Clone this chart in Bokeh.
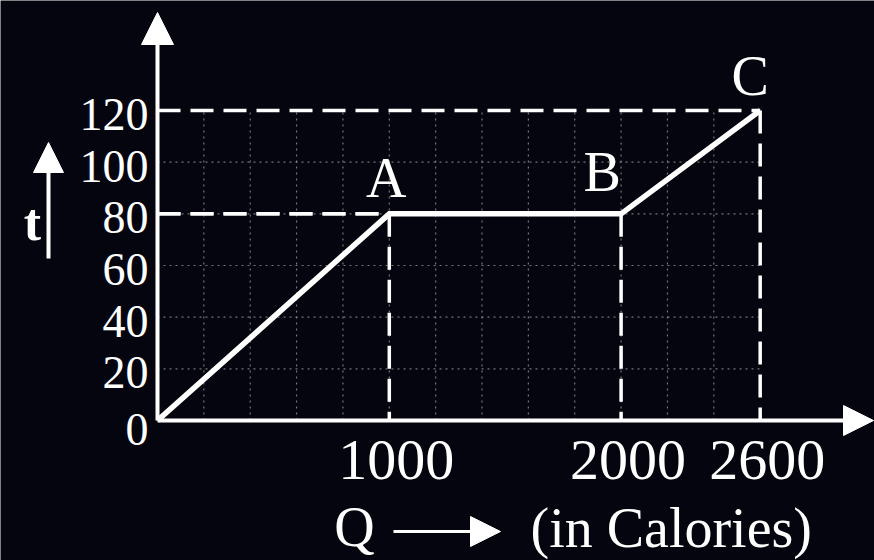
from bokeh.plotting import figure
from bokeh.models import Range1d, Arrow, NormalHead, Label
from bokeh.core.properties import value
from bokeh.embed import file_html
from bokeh.resources import INLINE

# Heating curve: heat supplied Q (calories) against temperature t
heat_q = [0, 1000, 2000, 2600]
temp_t = [0, 80, 80, 120]

# Named points on the curve
point_names = ["A", "B", "C"]
point_q = [1000, 2000, 2600]
point_t = [80, 80, 120]

# Tick labels
x_tick_values = [1000, 2000, 2600]
x_tick_labels = ["1000", "2000", "2600"]
y_tick_values = [0, 20, 40, 60, 80, 100, 120]
y_tick_labels = ["0", "20", "40", "60", "80", "100", "120"]

# Grid spacing
grid_q_step = 200
grid_t_step = 20

# ---- layout ----
W, H = 874, 560
BG = "#05050f"
FG = "white"
FONT = value("Liberation Serif")

# pixel position of the origin and pixels per unit
X0, Y0 = 157, 420
SX, SY = 0.2318, 2.583


def qx(px):
    """data Q for a canvas x pixel"""
    return (px - X0) / SX


def ty(py):
    """data t for a canvas y pixel (measured from top)"""
    return (Y0 - py) / SY


p = figure(
    width=W, height=H,
    x_range=Range1d(qx(0), qx(W)), y_range=Range1d(ty(H), ty(0)),
    x_axis_location=None, y_axis_location=None,
    min_border=0, toolbar_location=None, output_backend="svg",
    background_fill_color=BG, border_fill_color=BG, outline_line_color=None,
)
p.grid.visible = False

q_max = max(point_q)
t_max = max(point_t)

# dotted grid
grid_qs = list(range(grid_q_step, q_max, grid_q_step))
grid_ts = list(range(grid_t_step, t_max, grid_t_step))
p.segment(x0=grid_qs, y0=[0] * len(grid_qs), x1=grid_qs, y1=[t_max] * len(grid_qs),
          line_color="#9a9a9a", line_width=1.2, line_dash="2 4", line_alpha=0.75)
p.segment(x0=[0] * len(grid_ts), y0=grid_ts, x1=[q_max] * len(grid_ts), y1=grid_ts,
          line_color="#9a9a9a", line_width=1.2, line_dash="2 4", line_alpha=0.75)

# dashed guides from each named point to the axes
n = len(point_q)
p.segment(x0=[0] * n, y0=point_t, x1=point_q, y1=point_t,
          line_color=FG, line_width=3.5, line_dash="23 10")
p.segment(x0=point_q, y0=point_t, x1=point_q, y1=[0] * n,
          line_color=FG, line_width=3.5, line_dash="23 10")

# axes with arrow heads
p.add_layout(Arrow(x_start=0, y_start=0, x_end=0, y_end=ty(12),
                   line_color=FG, line_width=4,
                   end=NormalHead(size=32, fill_color=FG, line_color=FG)))
p.add_layout(Arrow(x_start=0, y_start=0, x_end=qx(873), y_end=0,
                   line_color=FG, line_width=4,
                   end=NormalHead(size=30, fill_color=FG, line_color=FG)))

# the heating curve
p.line(heat_q, temp_t, line_color=FG, line_width=5.5, line_join="miter")

# y tick labels
p.text(x=[0] * len(y_tick_values), y=y_tick_values, text=y_tick_labels,
       x_offset=-9, y_offset=[9 if v == 0 else 4 for v in y_tick_values],
       text_align="right", text_baseline="middle",
       text_font=FONT, text_font_size="46px", text_color=FG)

# x tick labels
p.text(x=x_tick_values, y=[0] * len(x_tick_values), text=x_tick_labels,
       x_offset=7, y_offset=39,
       text_align="center", text_baseline="middle",
       text_font=FONT, text_font_size="58px", text_color=FG)

# point names
p.text(x=point_q, y=point_t, text=point_names,
       x_offset=[-3, -19, -10], y_offset=[-36, -42, -35],
       text_align="center", text_baseline="middle",
       text_font=FONT, text_font_size="56px", text_color=FG)

# axis titles
p.add_layout(Label(x=qx(32), y=ty(222), text="t", text_align="center",
                   text_baseline="alphabetic", text_font="Liberation Serif",
                   text_font_style="bold", text_font_size="52px", text_color=FG))
p.add_layout(Arrow(x_start=qx(48), y_start=ty(258), x_end=qx(48), y_end=ty(142),
                   line_color=FG, line_width=4,
                   end=NormalHead(size=30, fill_color=FG, line_color=FG)))

p.add_layout(Label(x=qx(354), y=ty(526), text="Q", text_align="center",
                   text_baseline="middle", text_font="Liberation Serif",
                   text_font_size="56px", text_color=FG))
p.add_layout(Arrow(x_start=qx(393), y_start=ty(531), x_end=qx(500), y_end=ty(531),
                   line_color=FG, line_width=3,
                   end=NormalHead(size=30, fill_color=FG, line_color=FG)))
p.add_layout(Label(x=qx(530), y=ty(527), text="(in Calories)", text_align="left",
                   text_baseline="middle", text_font="Liberation Serif",
                   text_font_size="56px", text_color=FG))

open("out.html", "w").write(file_html(p, INLINE))
